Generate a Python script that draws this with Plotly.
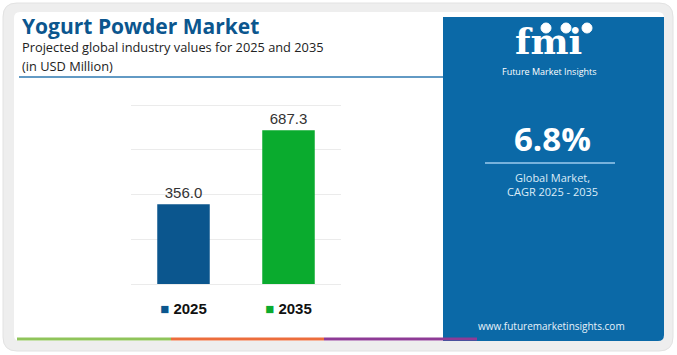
import plotly.graph_objects as go

W, H = 677, 355

# ---- data ----
years = ["2025", "2035"]
values = [356.0, 687.3]
bar_colors = ["#0b568e", "#0aab2e"]
value_labels = ["356.0", "687.3"]
cagr_text = "6.8%"

def px(x):
    return x / W

def py(y):
    return 1 - y / H

def rounded_path(x0, y0, x1, y1, r, corners=(1, 1, 1, 1)):
    tl, tr, br, bl = [r * c for c in corners]
    p = f"M {px(x0 + tl)} {py(y0)} L {px(x1 - tr)} {py(y0)} "
    if tr:
        p += f"Q {px(x1)} {py(y0)} {px(x1)} {py(y0 + tr)} "
    p += f"L {px(x1)} {py(y1 - br)} "
    if br:
        p += f"Q {px(x1)} {py(y1)} {px(x1 - br)} {py(y1)} "
    p += f"L {px(x0 + bl)} {py(y1)} "
    if bl:
        p += f"Q {px(x0)} {py(y1)} {px(x0)} {py(y1 - bl)} "
    p += f"L {px(x0)} {py(y0 + tl)} "
    if tl:
        p += f"Q {px(x0)} {py(y0)} {px(x0 + tl)} {py(y0)} "
    p += "Z"
    return p

tick_text = [
    f'<span style="color:{c}">■</span> <b>{y}</b>' for y, c in zip(years, bar_colors)
]

fig = go.Figure()
fig.add_trace(go.Bar(
    x=years, y=values,
    marker=dict(color=bar_colors, line=dict(width=0)),
    width=0.5,
    text=value_labels,
    textposition="outside",
    textfont=dict(size=15, color="#333333", family="Liberation Sans"),
    cliponaxis=False,
    hoverinfo="skip",
))

PANEL = "#0b69a7"
shapes = []
shapes.append(dict(type="path", xref="paper", yref="paper",
                   path=rounded_path(3, 3, 673, 351, 14),
                   fillcolor="#eeeeee", line=dict(color="#e2e2e2", width=1), layer="below"))
shapes.append(dict(type="path", xref="paper", yref="paper",
                   path=rounded_path(14, 12, 664, 341, 6),
                   fillcolor="#ffffff", line=dict(width=0), layer="below"))
shapes.append(dict(type="path", xref="paper", yref="paper",
                   path=rounded_path(443, 17, 664, 341, 6, corners=(0, 0, 1, 0)),
                   fillcolor=PANEL, line=dict(width=0), layer="below"))
shapes.append(dict(type="line", xref="paper", yref="paper",
                   x0=px(19), x1=px(443), y0=py(77), y1=py(77),
                   line=dict(color="#2e78b0", width=1.5)))
for x0, x1, col in [(17, 171, "#8fc45a"), (171, 324, "#ec6d3c"), (324, 477, "#8e3b96")]:
    shapes.append(dict(type="line", xref="paper", yref="paper",
                       x0=px(x0), x1=px(x1), y0=py(339), y1=py(339),
                       line=dict(color=col, width=3)))
shapes.append(dict(type="line", xref="paper", yref="paper",
                   x0=px(485), x1=px(615), y0=py(163), y1=py(163),
                   line=dict(color="#9ccbee", width=1.5)))
for cx in [546, 566, 587]:
    shapes.append(dict(type="circle", xref="paper", yref="paper",
                       x0=px(cx - 5), x1=px(cx + 5), y0=py(33), y1=py(23),
                       fillcolor="#ffffff", line=dict(color="#ffffff", width=1)))

def ann(text, x, y, size, color, family="Open Sans", xanchor="left"):
    return dict(text=text, x=px(x), y=py(y), xref="paper", yref="paper",
                xanchor=xanchor, yanchor="middle", showarrow=False,
                font=dict(size=size, color=color, family=family))

annotations = [
    ann("<b>Yogurt Powder Market</b>", 20, 26, 21, "#0b568e"),
    ann("Projected global industry values for 2025 and 2035", 20, 47, 12.8, "#222222"),
    ann("(in USD Million)", 20, 66, 12.8, "#222222"),
    ann("<b>fmi</b>", 548, 41, 36, "#ffffff", family="DejaVu Serif", xanchor="center"),
    ann("Future Market Insights", 549, 72, 9, "#ffffff", xanchor="center"),
    ann(f"<b>{cagr_text}</b>", 552, 139, 33, "#ffffff", xanchor="center"),
    ann("Global Market,<br>CAGR 2025 - 2035", 552, 184.5, 11, "#dcecf8", xanchor="center"),
    ann("www.futuremarketinsights.com", 551, 326, 10, "#e8f2fa", xanchor="center"),
]

fig.update_layout(
    width=W, height=H,
    margin=dict(l=0, r=0, t=0, b=0),
    paper_bgcolor="#ffffff",
    plot_bgcolor="rgba(0,0,0,0)",
    showlegend=False,
    shapes=shapes,
    annotations=annotations,
    xaxis=dict(domain=[px(131), px(341)], type="category",
               tickvals=years, ticktext=tick_text, ticks="",
               tickfont=dict(size=15, color="#111111", family="Liberation Sans"),
               ticklabelstandoff=14,
               showgrid=False, zeroline=False, showline=False, fixedrange=True),
    yaxis=dict(domain=[py(284), py(103.9)], range=[0, 805], dtick=200,
               showticklabels=False, gridcolor="#ebebeb", gridwidth=1,
               zeroline=True, zerolinecolor="#ebebeb", zerolinewidth=1,
               showline=False, fixedrange=True),
)

fig.write_html("out.html", config={"displayModeBar": False},
               post_script="document.body.style.margin='0';")
